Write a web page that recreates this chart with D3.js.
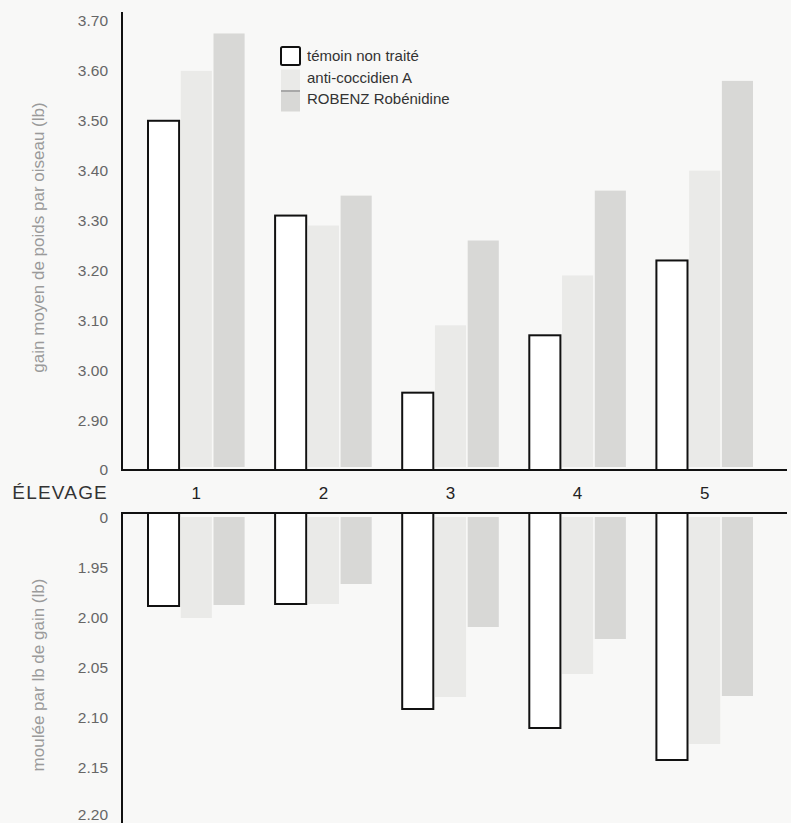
<!DOCTYPE html>
<html><head><meta charset="utf-8">
<script src="https://cdn.jsdelivr.net/npm/d3@7/dist/d3.min.js"></script>
<style>
html,body{margin:0;padding:0;background:#f8f8f7;}
svg{display:block;font-family:"Liberation Sans",Arial,sans-serif;}
</style></head>
<body>
<svg id="chart" width="791" height="823"></svg>
<script>
const farms = ["1","2","3","4","5"];
const series = ["témoin non traité","anti-coccidien A","ROBENZ Robénidine"];
// gain moyen de poids par oiseau (lb)
const gainTemoin = [3.50, 3.31, 2.955, 3.07, 3.22];
const gainAnti   = [3.60, 3.29, 3.09, 3.19, 3.40];
const gainRobenz = [3.675, 3.35, 3.26, 3.36, 3.58];
// moulée par lb de gain (lb)
const feedTemoin = [1.988, 1.986, 2.091, 2.110, 2.142];
const feedAnti   = [2.000, 1.986, 2.079, 2.056, 2.126];
const feedRobenz = [1.987, 1.966, 2.009, 2.021, 2.078];
const gainTicks = [2.80, 2.90, 3.00, 3.10, 3.20, 3.30, 3.40, 3.50, 3.60, 3.70];
const gainTickLabels = ["0","2.90","3.00","3.10","3.20","3.30","3.40","3.50","3.60","3.70"];
const feedTicks = [1.90, 1.95, 2.00, 2.05, 2.10, 2.15, 2.20];
const feedTickLabels = ["0","1.95","2.00","2.05","2.10","2.15","2.20"];
const topTitle = "gain moyen de poids par oiseau (lb)";
const botTitle = "moulée par lb de gain (lb)";
const xTitle = "ÉLEVAGE";

const fills = ["#ffffff", "#eaeae8", "#d8d8d6"];
const svg = d3.select("#chart");
const axisX = 122, axisRight = 787;

const x0 = d3.scaleBand().domain(farms).range([148, 753]).paddingInner(0.24).paddingOuter(0);
const x1 = d3.scaleBand().domain(series).range([0, x0.bandwidth()]).paddingInner(0.05);
const yTop = d3.scaleLinear().domain([2.80, 3.70]).range([470, 21]);
const yBot = d3.scaleLinear().domain([1.90, 2.20]).range([518, 818]);
const topBase = yTop(2.80);
const botBase = yBot(1.90) - 5;

const gainData = farms.map((f,i)=>({farm:f, vals:[gainTemoin[i], gainAnti[i], gainRobenz[i]]}));
const feedData = farms.map((f,i)=>({farm:f, vals:[feedTemoin[i], feedAnti[i], feedRobenz[i]]}));

// top bars
const gTop = svg.append("g");
gainData.forEach(d=>{
  d.vals.forEach((v,j)=>{
    const xx = x0(d.farm)+x1(series[j]);
    const gap = j===0?0:3;
    gTop.append("rect").attr("x", xx).attr("width", x1.bandwidth())
      .attr("y", yTop(v)).attr("height", topBase - gap - yTop(v))
      .attr("fill", fills[j])
      .attr("stroke", j===0?"#111":"none").attr("stroke-width", 2);
  });
});
// bottom bars
const gBot = svg.append("g");
feedData.forEach(d=>{
  d.vals.forEach((v,j)=>{
    const xx = x0(d.farm)+x1(series[j]);
    const gap = j===0?0:4;
    gBot.append("rect").attr("x", xx).attr("width", x1.bandwidth())
      .attr("y", botBase + gap).attr("height", yBot(v) - botBase - gap)
      .attr("fill", fills[j])
      .attr("stroke", j===0?"#111":"none").attr("stroke-width", 2);
  });
});

// axes lines
svg.append("line").attr("x1",axisX).attr("x2",axisX).attr("y1",yTop(3.70)-9).attr("y2",topBase+1)
  .attr("stroke","#111").attr("stroke-width",2);
svg.append("line").attr("x1",axisX-1).attr("x2",axisRight).attr("y1",topBase).attr("y2",topBase)
  .attr("stroke","#111").attr("stroke-width",2.2);
svg.append("line").attr("x1",axisX).attr("x2",axisX).attr("y1",botBase-1).attr("y2",823)
  .attr("stroke","#111").attr("stroke-width",2);
svg.append("line").attr("x1",axisX-1).attr("x2",axisRight).attr("y1",botBase).attr("y2",botBase)
  .attr("stroke","#111").attr("stroke-width",2.2);

// tick labels via d3 axes
const aTop = d3.axisLeft(yTop).tickValues(gainTicks).tickSize(0).tickPadding(14)
  .tickFormat((d,i)=>gainTickLabels[i]);
const gAT = svg.append("g").attr("transform",`translate(${axisX},0)`).call(aTop);
gAT.select(".domain").remove();
const aBot = d3.axisLeft(yBot).tickValues(feedTicks).tickSize(0).tickPadding(14)
  .tickFormat((d,i)=>feedTickLabels[i]);
const gAB = svg.append("g").attr("transform",`translate(${axisX},0)`).call(aBot);
gAB.select(".domain").remove();
svg.selectAll(".tick text").attr("font-family","Liberation Sans, Arial, sans-serif")
  .attr("font-size",15.5).attr("fill","#666");
// keep the last bottom label inside the picture
gAB.selectAll(".tick text").filter((d,i)=>i===feedTicks.length-1).attr("dy","0.1em");

// x labels
const midY = (topBase + botBase)/2 + 1;
svg.append("g").selectAll("text").data(farms).join("text")
  .attr("x", d=>x0(d)+x0.bandwidth()/2).attr("y", midY)
  .attr("dy","0.36em").attr("text-anchor","middle")
  .attr("font-size",17).attr("fill","#222").text(d=>d);
svg.append("text").attr("x",108).attr("y",midY).attr("dy","0.36em")
  .attr("text-anchor","end").attr("font-size",19).attr("letter-spacing",1.2)
  .attr("fill","#333").text(xTitle);

// y titles
svg.append("text").attr("transform",`translate(44,${(yTop(3.70)+topBase)/2-8}) rotate(-90)`)
  .attr("text-anchor","middle").attr("font-size",17).attr("fill","#9a9a9a").text(topTitle);
svg.append("text").attr("transform",`translate(44,675) rotate(-90)`)
  .attr("text-anchor","middle").attr("font-size",17).attr("fill","#9a9a9a").text(botTitle);

// legend
const leg = svg.append("g").attr("transform","translate(281,47)");
const rowH = 21.5;
series.forEach((s,j)=>{
  const r = leg.append("rect").attr("x",0).attr("y",j*rowH).attr("width",19).attr("height",j===0?18:rowH)
    .attr("fill",fills[j]);
  if(j===0) r.attr("y",0).attr("stroke","#111").attr("stroke-width",2).attr("rx",1.5);
  if(j===1) r.attr("y",rowH+1).attr("height",rowH-1);
  leg.append("text").attr("x",26).attr("y",j*rowH+9).attr("dy","0.36em")
    .attr("font-size",15).attr("fill","#333").text(s);
});
leg.append("line").attr("x1",0).attr("x2",19).attr("y1",2*rowH+1).attr("y2",2*rowH+1)
  .attr("stroke","#999").attr("stroke-width",1.5);
</script>
</body></html>
